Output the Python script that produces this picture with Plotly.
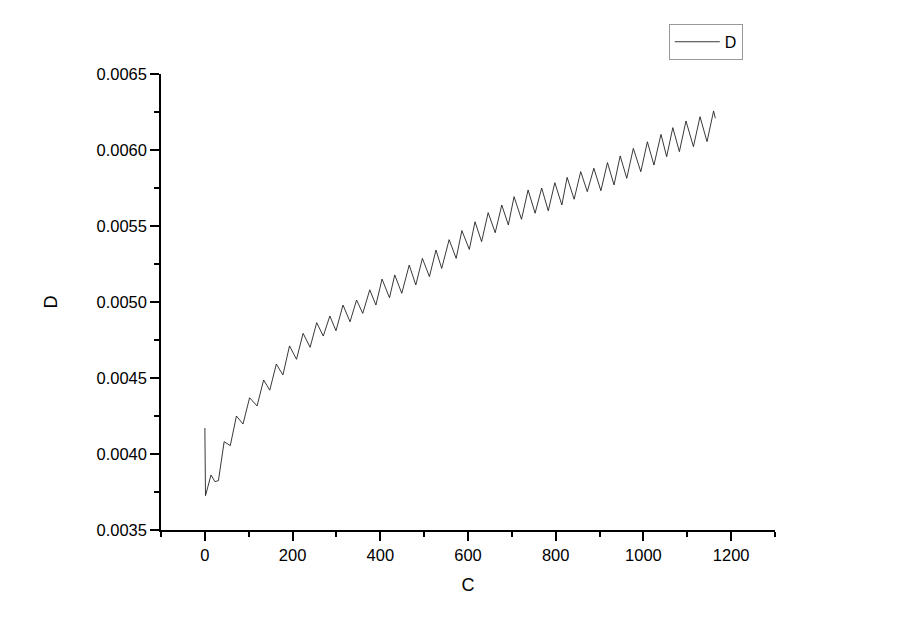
import plotly.graph_objects as go

# Vertices of the curve (C, D): alternating peaks and troughs
c_vals = [0, 1.5, 14, 23, 31, 44, 58, 72, 87, 102, 119, 134, 148, 163, 178, 193,
          209, 224, 240, 255, 270, 285, 299, 315, 331, 346, 360, 376, 390, 404,
          421, 433, 449, 466, 481, 496, 512, 527, 540, 557, 573, 586, 603, 616,
          631, 646, 662, 677, 692, 705, 722, 737, 753, 768, 783, 798, 814, 826,
          842, 857, 872, 887, 903, 918, 933, 947, 962, 977, 994, 1009, 1024,
          1040, 1053, 1067, 1082, 1097, 1114, 1129, 1145, 1160, 1164]
d_vals = [0.004171, 0.003726, 0.003862, 0.003818, 0.003825, 0.004081, 0.004055,
          0.004250, 0.004197, 0.004370, 0.004316, 0.004487, 0.004420, 0.004592,
          0.004520, 0.004711, 0.004623, 0.004794, 0.004702, 0.004864, 0.004776,
          0.004908, 0.004811, 0.004980, 0.004870, 0.005013, 0.004925, 0.005080,
          0.004980, 0.005151, 0.005028, 0.005178, 0.005057, 0.005243, 0.005112,
          0.005287, 0.005167, 0.005342, 0.005221, 0.005410, 0.005287, 0.005470,
          0.005346, 0.005528, 0.005397, 0.005588, 0.005456, 0.005638, 0.005507,
          0.005693, 0.005544, 0.005737, 0.005584, 0.005750, 0.005600, 0.005785,
          0.005638, 0.005820, 0.005676, 0.005858, 0.005726, 0.005880, 0.005732,
          0.005917, 0.005770, 0.005961, 0.005814, 0.006011, 0.005857, 0.006054,
          0.005901, 0.006103, 0.005956, 0.006147, 0.005989, 0.006191, 0.006022,
          0.006219, 0.006055, 0.006257, 0.006209]

x_ticks = [0, 200, 400, 600, 800, 1000, 1200]
y_ticks = [0.0035, 0.0040, 0.0045, 0.0050, 0.0055, 0.0060, 0.0065]
y_labels = ["0.0035", "0.0040", "0.0045", "0.0050", "0.0055", "0.0060", "0.0065"]

FONT = "Arial, Liberation Sans, sans-serif"

fig = go.Figure()
fig.add_trace(go.Scatter(x=c_vals, y=d_vals, mode="lines", name="D",
                         line=dict(color="#222222", width=0.9)))

# page body has an 8px margin, so the figure is 16px smaller and margins shifted
fig.update_layout(
    width=884, height=619,
    margin=dict(l=153, r=117, t=66, b=97, autoexpand=False),
    paper_bgcolor="white", plot_bgcolor="white",
    font=dict(family=FONT, size=16.5, color="black"),
    showlegend=True,
    legend=dict(x=0.827, y=1.11, xanchor="left", yanchor="top",
                bordercolor="#999999", borderwidth=1, bgcolor="white",
                font=dict(size=16, family=FONT), itemwidth=45,
                tracegroupgap=0, valign="middle"),
    xaxis=dict(range=[-100, 1300], tickmode="array", tickvals=x_ticks,
               ticks="outside", ticklen=9, tickwidth=1.5, tickcolor="black",
               showline=True, linecolor="black", linewidth=1.5,
               showgrid=False, zeroline=False, automargin=False,
               minor=dict(tickmode="linear", tick0=-100, dtick=100, ticks="outside",
                          ticklen=5, tickwidth=1.5, tickcolor="black", showgrid=False),
               title=dict(text="C", font=dict(size=18, family=FONT), standoff=16),
               tickfont=dict(size=16.5, family=FONT)),
    yaxis=dict(range=[0.0035, 0.0065], tickmode="array", tickvals=y_ticks,
               ticktext=y_labels,
               ticks="outside", ticklen=9, tickwidth=1.5, tickcolor="black",
               showline=True, linecolor="black", linewidth=1.5,
               showgrid=False, zeroline=False, automargin=False,
               minor=dict(tickmode="linear", tick0=0.0035, dtick=0.00025, ticks="outside",
                          ticklen=5, tickwidth=1.5, tickcolor="black", showgrid=False),
               title=dict(text="D", font=dict(size=18, family=FONT), standoff=34),
               tickfont=dict(size=16.5, family=FONT)),
)

fig.write_html("out.html")
